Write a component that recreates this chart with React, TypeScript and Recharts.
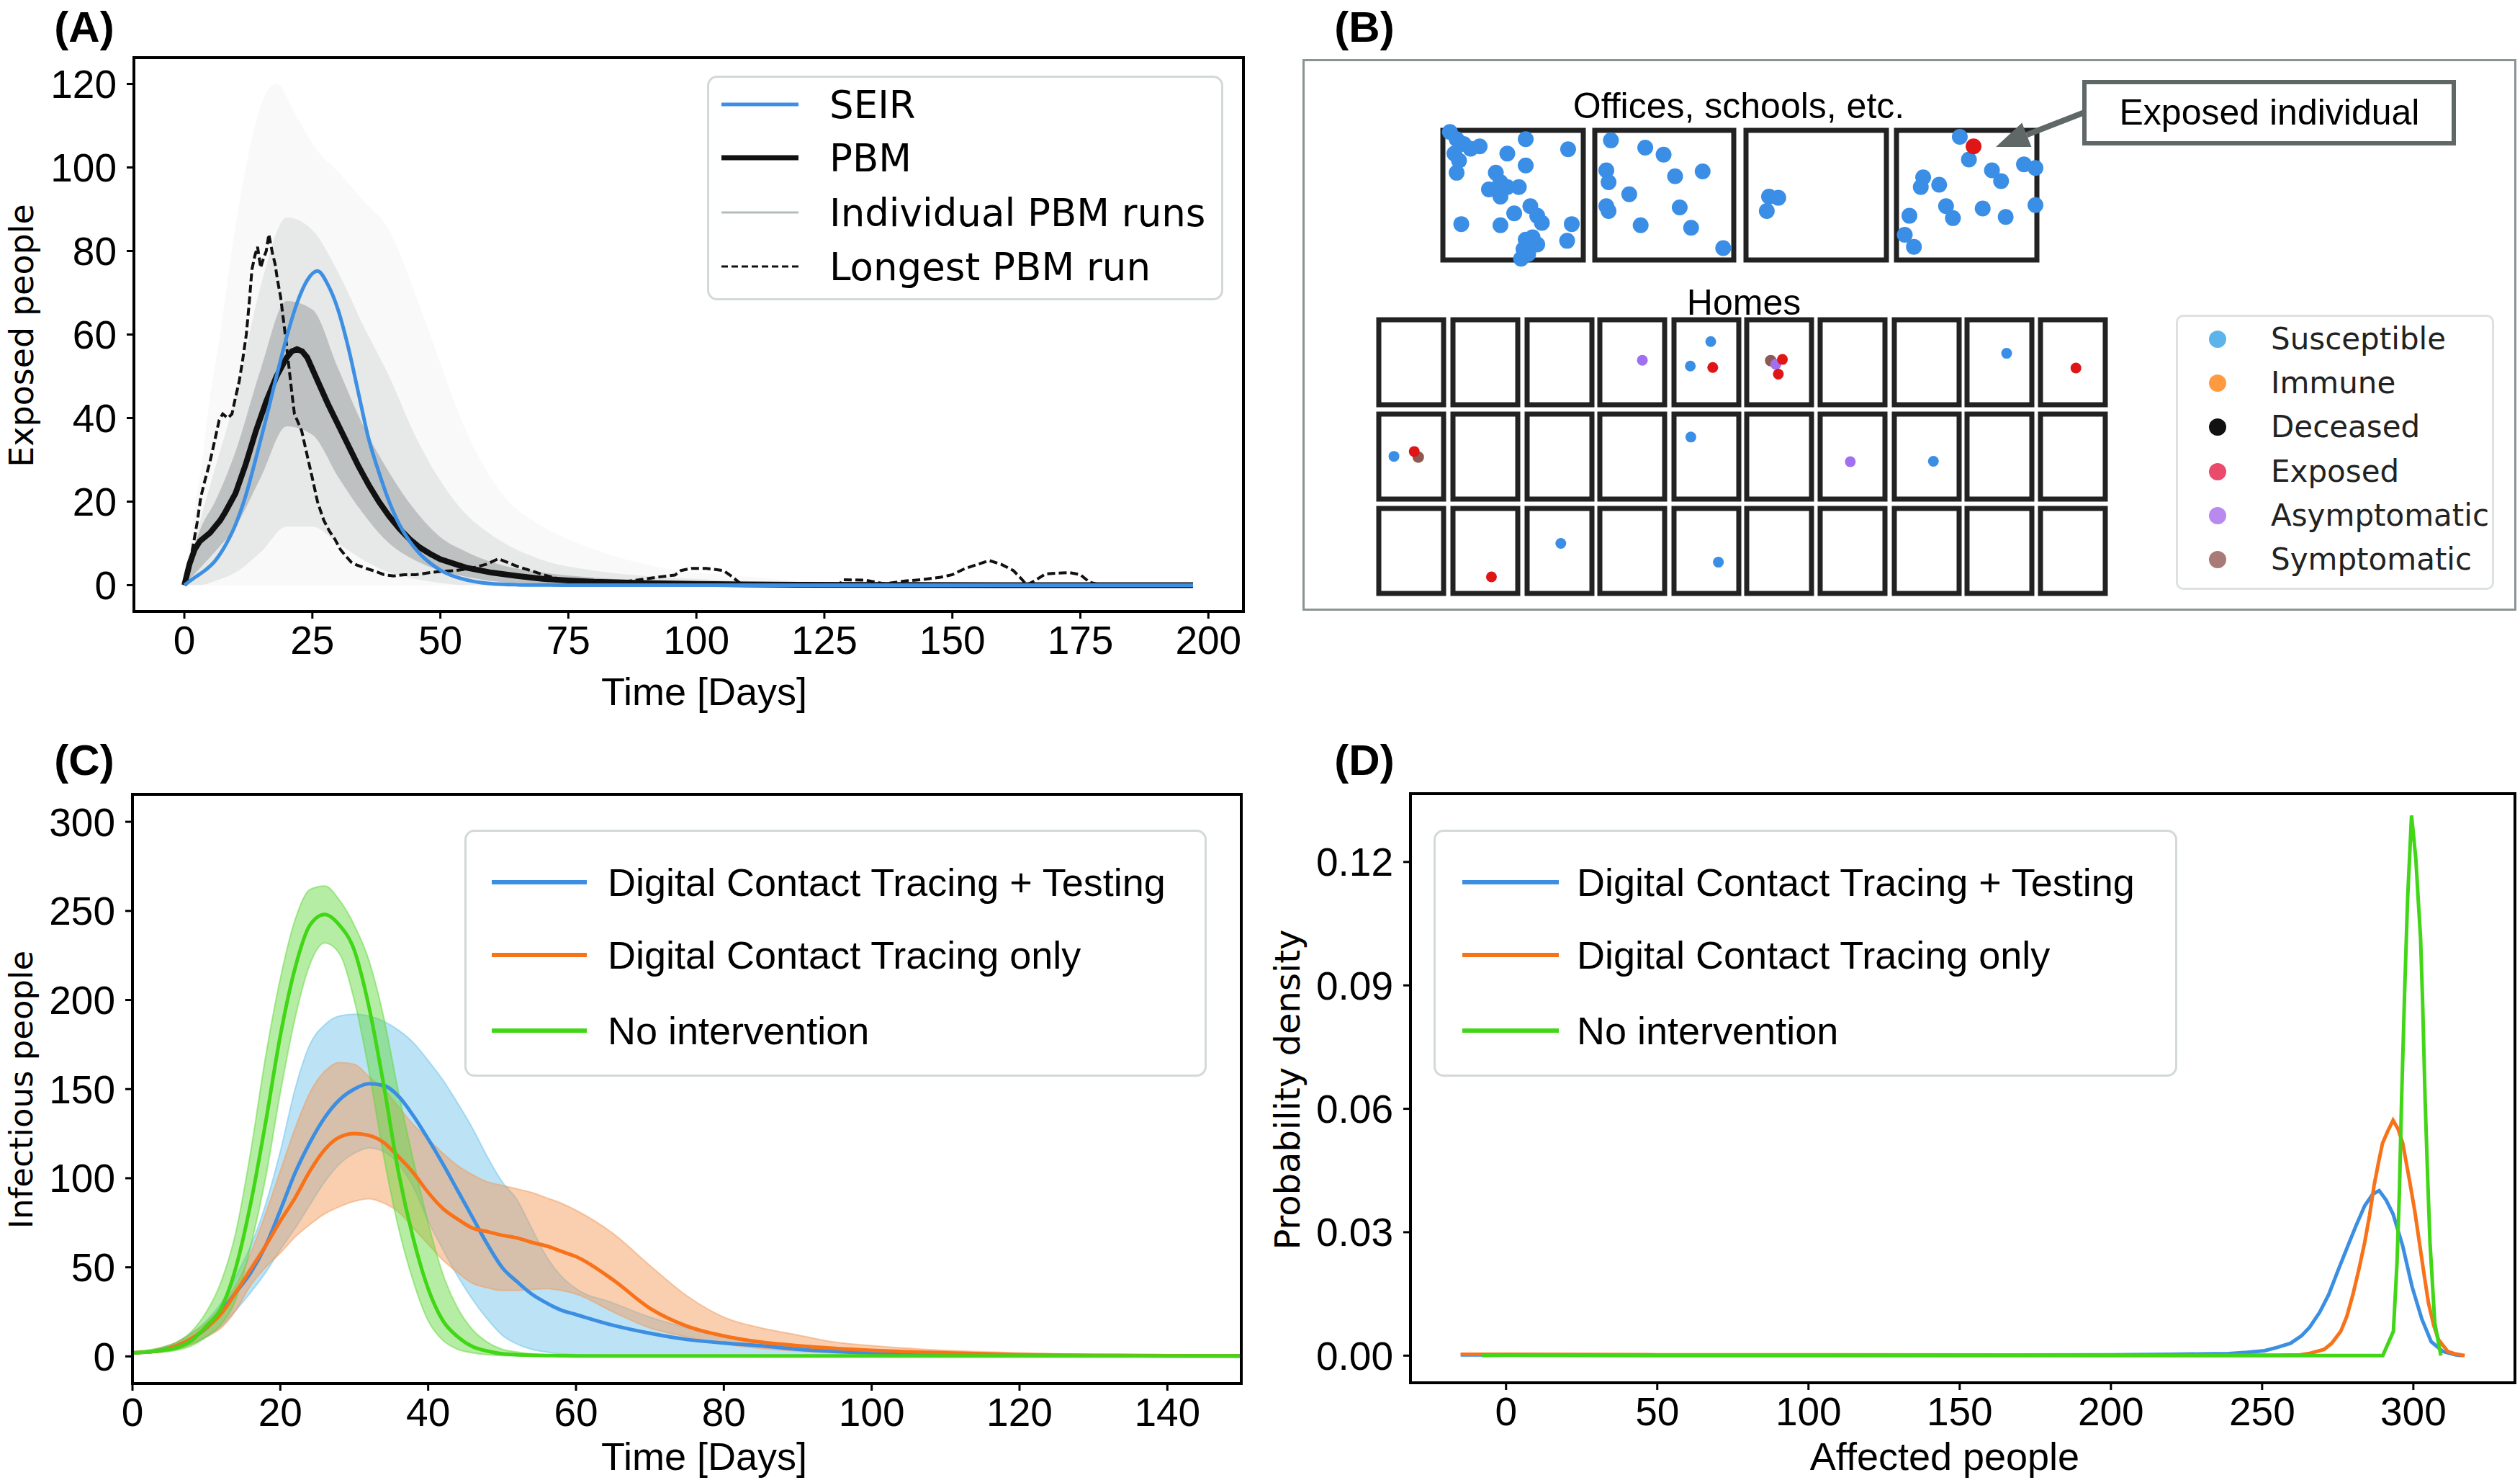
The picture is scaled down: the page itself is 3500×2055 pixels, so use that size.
import React from "react";
import {
  ComposedChart,
  Line,
  Area,
  XAxis,
  YAxis,
  ScatterChart,
  Scatter,
  ReferenceArea,
  ReferenceLine,
} from "recharts";

const SANS = "'Liberation Sans', Arial, sans-serif";
const DEJAVU = "'DejaVu Sans', sans-serif";

// ---------------- (A) exposed people ----------------
const A_X_TICKS = [0, 25, 50, 75, 100, 125, 150, 175, 200];
const A_Y_TICKS = [0, 20, 40, 60, 80, 100, 120];

const SEIR: [number, number][] = [
  [0, 0], [2, 1.8], [4, 3.5], [6, 5.8], [8, 9.5], [10, 14.5], [12, 21.5], [14, 30.5],
  [16, 40], [18, 50], [20, 59.5], [22, 67.5], [24, 73], [26, 75.2], [28, 72], [30, 66],
  [32, 57], [34, 46], [36, 35], [38, 27], [40, 20], [42, 14.5], [44, 10.5], [46, 7.5],
  [48, 5.3], [50, 3.6], [52, 2.4], [54, 1.6], [56, 1], [58, 0.6], [60, 0.35], [65, 0.1],
  [70, 0.03], [80, 0], [197, 0],
];

const PBM_MEAN: [number, number][] = [
  [0, 0], [1, 5], [2, 8.5], [3, 10.5], [4, 11.5], [5, 12.5], [6, 14], [7, 15.5], [8, 17.5],
  [10, 22], [12, 29], [14, 37], [16, 44], [18, 50], [20, 54.5], [21, 56], [22, 56.5],
  [23, 56], [24, 54.5], [26, 49], [28, 43.5], [30, 38.5], [32, 33.5], [34, 28.5], [36, 24],
  [38, 20], [40, 16.5], [42, 13.5], [44, 11], [46, 9], [48, 7.5], [50, 6.2], [55, 4.2],
  [60, 3], [65, 2.2], [70, 1.5], [75, 1.1], [80, 0.8], [90, 0.5], [100, 0.3], [110, 0.15],
  [120, 0.1], [140, 0.05], [160, 0], [197, 0],
];

const LONGEST_RUN: [number, number][] = [
  [0, 0], [1, 4], [1.5, 8], [2.5, 15], [3.2, 21], [4, 25], [5, 29.5], [6, 35], [6.8, 39.5],
  [7.5, 41], [8.5, 40], [9.3, 41], [10, 45], [10.7, 48.7], [11.4, 54], [12.1, 60], [12.7, 68],
  [13.2, 75.6], [13.8, 79], [14.3, 81], [14.9, 76], [15.4, 78], [16, 80], [16.5, 84],
  [17.2, 79.5], [17.7, 77], [18.2, 73], [18.8, 69], [19.3, 64], [19.9, 58], [20.4, 52.5],
  [21, 46], [21.5, 41], [22.2, 39], [22.9, 37], [24, 31], [25, 25.6], [26, 20], [27.2, 15.6],
  [28.3, 13], [29.4, 11], [30.5, 8.5], [31.5, 7], [32.6, 5.5], [33.7, 4.8], [35.5, 4],
  [37.3, 3.3], [39, 2.5], [40.9, 2.2], [43, 2.5], [45.2, 2.5], [48, 3], [50.2, 3.3], [53, 3.5],
  [56, 4], [59, 5], [61.3, 6.3], [63, 5.5], [65, 4.5], [67.6, 3.5], [70, 2.5], [73.9, 1.3],
  [78, 1], [82, 0.8], [86.5, 0.9], [90, 1.5], [93, 2], [95.8, 2.4], [97, 3.5], [99, 4],
  [102, 4], [105.3, 3.5], [107, 2], [109, 0], [128, 0], [128.5, 1.3], [133, 1.2], [136.8, 0.3],
  [140.7, 1], [144, 1.3], [147.7, 1.9], [150, 2.5], [152.5, 4], [155, 5], [157.2, 5.9],
  [159.5, 5], [161.9, 3.5], [163.5, 1.5], [164.5, 0], [166, 1], [168.2, 2.7], [172.9, 3],
  [175, 2.5], [176.8, 0.7], [179, 0], [197, 0],
];

// spread of the individual PBM runs: [t, low, high]
const RUNS_OUTER: [number, number, number][] = [
  [0, 0, 0], [2, 0, 18], [3.5, 0, 30], [5, 0, 45], [7, 0, 60], [9, 0, 78], [12, 0, 100],
  [15, 0, 115], [18, 0, 120], [22, 0, 112], [26, 0, 104], [30, 0, 99], [35, 0, 92], [40, 0, 85],
  [45, 0, 70], [48, 0, 60], [55, 0, 37], [62, 0, 22], [70, 0, 14], [77, 0, 10], [90, 0, 5],
  [100, 0, 3], [110, 0, 2], [120, 0, 1], [140, 0, 0.3], [160, 0, 0], [197, 0, 0],
];
const RUNS_MID: [number, number, number][] = [
  [0, 0, 0], [3, 0, 15], [6, 1, 28], [10, 3, 45], [15, 8, 72], [20, 14, 88], [25, 14, 85],
  [30, 10, 75], [35, 6, 62], [40, 3, 50], [45, 1.5, 36], [50, 0.5, 25], [55, 0, 17], [60, 0, 12],
  [70, 0, 6], [80, 0, 3.5], [90, 0, 2.2], [100, 0, 1.5], [120, 0, 0.6], [140, 0, 0.2],
  [160, 0, 0], [197, 0, 0],
];
const RUNS_CORE: [number, number, number][] = [
  [0, 0, 0], [3, 4, 13], [6, 8, 20], [10, 14, 32], [15, 26, 52], [20, 38, 68], [25, 36, 66],
  [30, 26, 52], [35, 17, 38], [40, 10, 27], [45, 6, 18], [50, 3.5, 11.5], [55, 2, 8],
  [60, 1, 5.5], [70, 0.3, 3], [80, 0, 1.8], [90, 0, 1], [100, 0, 0.6], [120, 0, 0.2],
  [140, 0, 0], [197, 0, 0],
];

// ---------------- (C) infectious people ----------------
const C_X_TICKS = [0, 20, 40, 60, 80, 100, 120, 140];
const C_Y_TICKS = [0, 50, 100, 150, 200, 250, 300];
const C_DAYS = [
  0, 2, 4, 6, 8, 10, 12, 14, 16, 18, 20, 22, 24, 26, 28, 30, 32, 34, 36, 38, 40, 42, 44, 46,
  48, 50, 52, 54, 56, 58, 60, 65, 70, 75, 80, 85, 90, 95, 100, 110, 120, 130, 140, 150,
];
const C_TRACE_TEST = [
  2, 2.5, 3.5, 6, 10, 16, 25, 36, 47, 62, 82, 103, 120, 134, 144, 150, 153, 152, 146, 135, 122,
  108, 93, 78, 63, 50, 42, 35, 30, 26, 23.5, 17.5, 13, 9.5, 7.5, 6, 4, 2.8, 2, 1.2, 0.7, 0.5, 0.3, 0.3,
];
const C_TRACE_TEST_LO = [
  1.5, 2, 2.5, 4, 7, 11, 17, 26, 36, 47, 60, 72, 85, 98, 108, 114, 117, 115, 108, 95, 76, 60,
  45, 32, 21, 12, 7, 4, 2.5, 1.5, 1, 0.5, 0.3, 0.2, 0.2, 0.2, 0.2, 0.2, 0.2, 0.2, 0.2, 0.2, 0.2, 0.2,
];
const C_TRACE_TEST_HI = [
  2.5, 3, 5, 8, 13, 20, 30, 45, 62, 85, 115, 150, 175, 186, 191, 192, 191, 188, 183, 176, 166,
  155, 142, 128, 112, 98, 88, 72, 56, 45, 38, 30, 22, 16, 11, 8, 6, 4.5, 3.5, 2, 1, 0.6, 0.4, 0.3,
];
const C_TRACE_ONLY = [
  2, 2.5, 3.5, 6, 10, 16, 24, 36, 49, 62, 76, 89, 104, 116, 123, 125, 124, 120, 112, 103, 92,
  83, 77, 72, 70, 68, 66.5, 64, 62, 59, 56, 43, 27, 17, 11.5, 8, 6, 4.5, 3.4, 2, 1, 0.6, 0.4, 0.3,
];
const C_TRACE_ONLY_LO = [
  1.5, 2, 2.5, 4, 7, 11, 16, 26, 40, 50, 58, 67, 74, 80, 84, 87, 88.5, 86, 81, 72, 63, 54, 47,
  41, 38.5, 37, 37, 37.5, 38, 37, 35, 25, 16, 11, 7, 4.5, 3, 2, 1.5, 0.8, 0.4, 0.3, 0.2, 0.2,
];
const C_TRACE_ONLY_HI = [
  2.5, 3, 5, 8, 13, 19, 28, 40, 58, 80, 104, 128, 148, 160, 165, 164, 157, 150, 140, 130, 122,
  114, 107, 102, 98, 96, 94, 92, 89, 86, 82, 69, 51, 34, 22, 16, 12, 8, 6, 3.4, 2, 1, 0.6, 0.4,
];
const C_NONE = [
  2, 2.5, 3.5, 5, 9, 17, 27, 50, 86, 131, 180, 218, 242, 248, 242, 228, 196, 152, 103, 66, 38,
  20, 11, 5.5, 3, 1.5, 1, 0.7, 0.5, 0.4, 0.3, 0.3, 0.3, 0.3, 0.3, 0.3, 0.3, 0.3, 0.3, 0.3, 0.3, 0.3, 0.3, 0.3,
];
const C_NONE_LO = [
  1.5, 2, 2.5, 3.5, 6, 11, 18, 32, 62, 100, 148, 190, 220, 232, 226, 200, 160, 112, 72, 42, 20,
  9, 4, 2, 1, 0.5, 0.3, 0.2, 0.2, 0.2, 0.2, 0.2, 0.2, 0.2, 0.2, 0.2, 0.2, 0.2, 0.2, 0.2, 0.2, 0.2, 0.2, 0.2,
];
const C_NONE_HI = [
  2.5, 3.5, 5, 8, 14, 25, 42, 70, 115, 168, 212, 245, 262, 264, 256, 242, 222, 190, 148, 110,
  75, 46, 27, 15, 8, 4, 2.5, 1.5, 1, 0.8, 0.6, 0.4, 0.4, 0.4, 0.4, 0.4, 0.4, 0.4, 0.4, 0.4, 0.4, 0.4, 0.4, 0.4,
];

// ---------------- (D) probability density ----------------
const D_X_TICKS = [0, 50, 100, 150, 200, 250, 300];
const D_Y_TICKS = [0, 0.03, 0.06, 0.09, 0.12];
const D_TRACE_TEST: [number, number][] = [
  [-15, 0.0002], [0, 0.0002], [50, 0.0001], [100, 0.0001], [150, 0.0001], [200, 0.0002],
  [220, 0.0003], [230, 0.0004], [239, 0.0005], [245, 0.0008], [250.8, 0.0012], [255, 0.002],
  [259.4, 0.003], [263, 0.0048], [265.7, 0.0069], [269, 0.0105], [272, 0.0148], [275, 0.0205],
  [278.3, 0.0266], [281, 0.0315], [283.9, 0.0364], [286.5, 0.0392], [288.7, 0.0401],
  [291, 0.0378], [293.3, 0.0344], [296.5, 0.0266], [299.6, 0.0167], [302.8, 0.0089],
  [305.9, 0.0034], [309.8, 0.001], [313.8, 0.0002], [316, 0],
];
const D_TRACE_ONLY: [number, number][] = [
  [-15, 0.0003], [-8, 0.0003], [0, 0.0003], [50, 0.0002], [100, 0.0002], [200, 0.0001],
  [255, 0.0001], [262.6, 0.0002], [266, 0.0006], [270.5, 0.0015], [273, 0.003], [276, 0.0059],
  [278, 0.0095], [280, 0.0148], [282, 0.021], [283.9, 0.0275], [285.5, 0.034], [287, 0.0413],
  [288.5, 0.047], [289.8, 0.0516], [291.5, 0.0545], [293.3, 0.0572], [295, 0.055],
  [296.5, 0.0516], [298.8, 0.0423], [300.5, 0.035], [302, 0.0275], [303.5, 0.02], [305, 0.0128],
  [306.7, 0.0075], [308.3, 0.0039], [311.4, 0.001], [314, 0.0004], [317, 0],
];
const D_NONE: [number, number][] = [
  [-8, 0], [0, 0.0001], [50, 0], [100, 0], [200, 0], [289.9, 0], [293.4, 0.0059],
  [294.6, 0.0226], [295.4, 0.04], [296.1, 0.062], [297.1, 0.088], [298.1, 0.111],
  [299.4, 0.1313], [300.8, 0.121], [301.6, 0.111], [302.4, 0.1013], [303.1, 0.085],
  [303.9, 0.062], [304.7, 0.044], [305.5, 0.0275], [307.1, 0.0079], [309.1, 0],
];

// ---------------- (B) schematic, plan units inside the panel ----------------
const B_W = 1683;
const B_H = 763;
const OFFICE_X: [number, number][] = [[194, 389], [405, 598], [615, 810], [824, 1019]];
const OFFICE_Y: [number, number] = [98, 278];
const HOME_X = [105, 208, 311, 412, 515, 616, 718, 821, 922, 1024];
const HOME_W = 90;
const HOME_Y = [361, 492, 623];
const HOME_H = 118;

// people in offices: [room, fx, fy] (fraction of the room)
const OFFICE_SUSCEPTIBLE: [number, number, number][] = [
  [0, 0.05, 0.013], [0, 0.098, 0.068], [0, 0.148, 0.105], [0, 0.197, 0.142], [0, 0.262, 0.124],
  [0, 0.082, 0.179], [0, 0.115, 0.234], [0, 0.459, 0.179], [0, 0.59, 0.068], [0, 0.892, 0.146],
  [0, 0.59, 0.271], [0, 0.098, 0.327], [0, 0.377, 0.327], [0, 0.41, 0.4], [0, 0.328, 0.456],
  [0, 0.459, 0.437], [0, 0.541, 0.437], [0, 0.41, 0.511], [0, 0.508, 0.64], [0, 0.623, 0.585],
  [0, 0.672, 0.659], [0, 0.705, 0.714], [0, 0.131, 0.723], [0, 0.41, 0.732], [0, 0.918, 0.723],
  [0, 0.59, 0.843], [0, 0.672, 0.88], [0, 0.574, 0.917], [0, 0.885, 0.852], [0, 0.557, 0.99],
  [0, 0.639, 0.825], [0, 0.607, 0.954],
  [1, 0.116, 0.077], [1, 0.363, 0.133], [1, 0.495, 0.188], [1, 0.083, 0.308], [1, 0.099, 0.4],
  [1, 0.248, 0.493], [1, 0.578, 0.354], [1, 0.776, 0.317], [1, 0.611, 0.594], [1, 0.099, 0.622],
  [1, 0.083, 0.585], [1, 0.33, 0.732], [1, 0.693, 0.751], [1, 0.924, 0.908],
  [2, 0.164, 0.511], [2, 0.23, 0.52], [2, 0.148, 0.622],
  [3, 0.451, 0.05], [3, 0.516, 0.225], [3, 0.19, 0.363], [3, 0.173, 0.437], [3, 0.304, 0.419],
  [3, 0.68, 0.308], [3, 0.745, 0.391], [3, 0.908, 0.262], [3, 0.99, 0.29], [3, 0.353, 0.585],
  [3, 0.402, 0.677], [3, 0.614, 0.603], [3, 0.778, 0.668], [3, 0.99, 0.576], [3, 0.092, 0.659],
  [3, 0.059, 0.806], [3, 0.124, 0.898],
];
const OFFICE_EXPOSED: [number, number, number][] = [[3, 0.549, 0.124]];

// people at home: [row, col, fx, fy]
const HOME_SUSCEPTIBLE: [number, number, number, number][] = [
  [0, 4, 0.567, 0.256], [0, 4, 0.252, 0.545], [0, 8, 0.611, 0.395],
  [1, 0, 0.234, 0.497], [1, 4, 0.26, 0.27], [1, 7, 0.603, 0.555],
  [2, 2, 0.52, 0.411], [2, 4, 0.685, 0.632],
];
const HOME_EXPOSED: [number, number, number, number][] = [
  [0, 4, 0.598, 0.562], [0, 5, 0.551, 0.467], [0, 5, 0.488, 0.64], [0, 9, 0.547, 0.568],
  [1, 0, 0.547, 0.44], [2, 1, 0.594, 0.805],
];
const HOME_ASYMPTOMATIC: [number, number, number, number][] = [
  [0, 3, 0.656, 0.476], [0, 5, 0.449, 0.524], [1, 6, 0.465, 0.56],
];
const HOME_SYMPTOMATIC: [number, number, number, number][] = [
  [0, 5, 0.37, 0.481], [1, 0, 0.609, 0.506],
];

const B_STATES = [
  { name: "Susceptible", color: "#5db4ea" },
  { name: "Immune", color: "#ff9a40" },
  { name: "Deceased", color: "#111111" },
  { name: "Exposed", color: "#ea4a6c" },
  { name: "Asymptomatic", color: "#b88af0" },
  { name: "Symptomatic", color: "#a87a78" },
];

const C_COLORS = { test: "#3b8ee2", only: "#f8721a", none: "#41d616" };

// ---------------- helpers ----------------
const pairs = (arr: [number, number][]) => arr.map(([x, y]) => ({ x, y }));
const bands = (arr: [number, number, number][]) => arr.map(([x, lo, hi]) => ({ x, band: [lo, hi] }));

const officePts = (arr: [number, number, number][]) =>
  arr.map(([r, fx, fy]) => ({
    x: OFFICE_X[r][0] + fx * (OFFICE_X[r][1] - OFFICE_X[r][0]),
    y: OFFICE_Y[0] + fy * (OFFICE_Y[1] - OFFICE_Y[0]),
  }));
const homePts = (arr: [number, number, number, number][]) =>
  arr.map(([row, col, fx, fy]) => ({ x: HOME_X[col] + fx * HOME_W, y: HOME_Y[row] + fy * HOME_H }));

const tickStyle = { fill: "#000", fontSize: 55, fontFamily: SANS };
const tickLine = { stroke: "#000", strokeWidth: 3 };

function Txt(props: {
  x: number; y: number; size: number; font?: string; weight?: number; rotate?: boolean;
  align?: "center" | "left"; children: React.ReactNode;
}) {
  const { x, y, size, font = SANS, weight = 400, rotate, align = "center" } = props;
  const tr = align === "center" ? "translate(-50%,-50%)" : "translate(0,-50%)";
  return (
    <div
      style={{
        position: "absolute", left: x, top: y, fontSize: size, lineHeight: `${Math.round(size * 1.15)}px`,
        fontFamily: font, fontWeight: weight, whiteSpace: "nowrap", color: "#000",
        transform: rotate ? `${tr} rotate(-90deg)` : tr,
      }}
    >
      {props.children}
    </div>
  );
}

function Frame({ x0, y0, x1, y1, color = "#000", w = 4 }: any) {
  return (
    <div
      style={{
        position: "absolute", left: x0 - w / 2, top: y0 - w / 2, width: x1 - x0 + w,
        height: y1 - y0 + w, border: `${w}px solid ${color}`, boxSizing: "border-box",
        pointerEvents: "none",
      }}
    />
  );
}

type LegendItem = { label: string; color: string; width: number; dash?: string };
function LegendBox(props: {
  box: [number, number, number, number]; rows: number[]; hx: [number, number]; tx: number;
  items: LegendItem[]; size: number; font: string;
}) {
  const { box, rows, hx, tx, items, size, font } = props;
  return (
    <>
      <div
        style={{
          position: "absolute", left: box[0], top: box[1], width: box[2] - box[0],
          height: box[3] - box[1], border: "3px solid #d3d8d8", borderRadius: 14,
          background: "rgba(255,255,255,0.85)", boxSizing: "border-box",
        }}
      />
      {items.map((it, i) => (
        <React.Fragment key={it.label}>
          <svg style={{ position: "absolute", left: hx[0], top: rows[i] - 10 }} width={hx[1] - hx[0]} height={20}>
            <line x1={0} x2={hx[1] - hx[0]} y1={10} y2={10} stroke={it.color} strokeWidth={it.width} strokeDasharray={it.dash} />
          </svg>
          <Txt x={tx} y={rows[i]} size={size} font={font} align="left">{it.label}</Txt>
        </React.Fragment>
      ))}
    </>
  );
}

const arrowShape = (p: any) => {
  const { x1, y1, x2, y2 } = p;
  const ang = Math.atan2(y2 - y1, x2 - x1);
  const L = 46;
  const W = 18;
  const bx = x2 - L * Math.cos(ang);
  const by = y2 - L * Math.sin(ang);
  const px = -Math.sin(ang) * W;
  const py = Math.cos(ang) * W;
  return (
    <g>
      <line x1={x1} y1={y1} x2={bx} y2={by} stroke="#5f6767" strokeWidth={8} />
      <polygon points={`${x2},${y2} ${bx + px},${by + py} ${bx - px},${by - py}`} fill="#5f6767" />
    </g>
  );
};

const dotShape = (r: number, color: string) => (p: any) => (
  <circle cx={p.cx} cy={p.cy} r={r} fill={color} />
);

export default function App() {
  const cData = C_DAYS.map((t, i) => ({
    t,
    test: C_TRACE_TEST[i],
    testBand: [C_TRACE_TEST_LO[i], C_TRACE_TEST_HI[i]],
    only: C_TRACE_ONLY[i],
    onlyBand: [C_TRACE_ONLY_LO[i], C_TRACE_ONLY_HI[i]],
    none: C_NONE[i],
    noneBand: [C_NONE_LO[i], C_NONE_HI[i]],
  }));

  const cdLegend: LegendItem[] = [
    { label: "Digital Contact Tracing + Testing", color: C_COLORS.test, width: 6 },
    { label: "Digital Contact Tracing only", color: C_COLORS.only, width: 6 },
    { label: "No intervention", color: C_COLORS.none, width: 6 },
  ];

  return (
    <div style={{ position: "absolute", left: 0, top: 0, width: 3500, height: 2055, background: "#fff", overflow: "hidden" }}>
      {/* ---------- (A) ---------- */}
      <div style={{ position: "absolute", left: 0, top: 70 }}>
        <ComposedChart width={1737} height={929} margin={{ top: 10, right: 10, left: 0, bottom: 0 }}>
          <XAxis
            type="number" dataKey="x" domain={[-9.85, 206.85]} ticks={A_X_TICKS} interval={0}
            allowDataOverflow height={150} tick={tickStyle} tickSize={10} tickMargin={10}
            tickLine={tickLine} axisLine={false}
          />
          <YAxis
            type="number" domain={[-6.3, 126.3]} ticks={A_Y_TICKS} interval={0} allowDataOverflow
            width={186} tick={tickStyle} tickSize={10} tickMargin={14} tickLine={tickLine} axisLine={false}
          />
          <Area data={bands(RUNS_OUTER)} dataKey="band" type="monotone" stroke="none" fill="#6e7676" fillOpacity={0.045} isAnimationActive={false} />
          <Area data={bands(RUNS_MID)} dataKey="band" type="monotone" stroke="none" fill="#6e7676" fillOpacity={0.12} isAnimationActive={false} />
          <Area data={bands(RUNS_CORE)} dataKey="band" type="monotone" stroke="none" fill="#6e7676" fillOpacity={0.34} isAnimationActive={false} />
          <Line data={pairs(LONGEST_RUN)} dataKey="y" type="linear" stroke="#111" strokeWidth={4} strokeDasharray="11 5" dot={false} activeDot={false} isAnimationActive={false} />
          <Line data={pairs(PBM_MEAN)} dataKey="y" type="linear" stroke="#111" strokeWidth={8} dot={false} activeDot={false} isAnimationActive={false} />
          <Line data={pairs(SEIR)} dataKey="y" type="monotone" stroke="#3d8fe3" strokeWidth={5} dot={false} activeDot={false} isAnimationActive={false} />
        </ComposedChart>
      </div>
      <Frame x0={186} y0={80} x1={1727} y1={849} />
      <LegendBox
        box={[982, 105, 1699, 417]} rows={[145, 219, 295, 370]} hx={[1002, 1109]} tx={1152}
        size={53} font={DEJAVU}
        items={[
          { label: "SEIR", color: "#3d8fe3", width: 5 },
          { label: "PBM", color: "#111", width: 7 },
          { label: "Individual PBM runs", color: "#b4bcbc", width: 3 },
          { label: "Longest PBM run", color: "#111", width: 3, dash: "9 5" },
        ]}
      />
      <Txt x={978} y={960} size={54}>Time [Days]</Txt>
      <Txt x={30} y={466} size={46} font={DEJAVU} rotate>Exposed people</Txt>
      <Txt x={117} y={37} size={60} weight={700}>(A)</Txt>

      {/* ---------- (B) ---------- */}
      <div style={{ position: "absolute", left: 1810, top: 83 }}>
        <ScatterChart width={B_W} height={B_H} margin={{ top: 0, right: 0, left: 0, bottom: 0 }}>
          <XAxis type="number" dataKey="x" domain={[0, B_W]} hide />
          <YAxis type="number" dataKey="y" domain={[0, B_H]} reversed hide />
          {OFFICE_X.map(([x1, x2], i) => (
            <ReferenceArea key={`o${i}`} x1={x1} x2={x2} y1={OFFICE_Y[0]} y2={OFFICE_Y[1]} fill="#fff" fillOpacity={0} stroke="#222" strokeWidth={7} ifOverflow="visible" />
          ))}
          {HOME_Y.map((y, r) =>
            HOME_X.map((x, c) => (
              <ReferenceArea key={`h${r}-${c}`} x1={x} x2={x + HOME_W} y1={y} y2={y + HOME_H} fill="#fff" fillOpacity={0} stroke="#222" strokeWidth={7} ifOverflow="visible" />
            ))
          )}
          <ReferenceArea x1={1085} x2={1598} y1={31} y2={116} fill="#fff" stroke="#5f6767" strokeWidth={6} ifOverflow="visible" />
          <ReferenceLine segment={[{ x: 1085, y: 73 }, { x: 962, y: 121 }]} shape={arrowShape} ifOverflow="visible" />
          <Scatter data={officePts(OFFICE_SUSCEPTIBLE)} shape={dotShape(11, "#3a8ee6")} isAnimationActive={false} />
          <Scatter data={officePts(OFFICE_EXPOSED)} shape={dotShape(11, "#e01515")} isAnimationActive={false} />
          <Scatter data={homePts(HOME_SUSCEPTIBLE)} shape={dotShape(7.5, "#3a8ee6")} isAnimationActive={false} />
          <Scatter data={homePts(HOME_SYMPTOMATIC)} shape={dotShape(8, "#8c5a52")} isAnimationActive={false} />
          <Scatter data={homePts(HOME_ASYMPTOMATIC)} shape={dotShape(7.5, "#a070f0")} isAnimationActive={false} />
          <Scatter data={homePts(HOME_EXPOSED)} shape={dotShape(7.5, "#e01515")} isAnimationActive={false} />
        </ScatterChart>
      </div>
      <Frame x0={1810} y0={83} x1={3493} y1={846} color="#8a9494" w={3} />
      <Txt x={2415} y={147} size={50}>Offices, schools, etc.</Txt>
      <Txt x={2422} y={420} size={50}>Homes</Txt>
      <Txt x={3152} y={156} size={50}>Exposed individual</Txt>
      <div
        style={{
          position: "absolute", left: 3022, top: 437, width: 442, height: 382,
          border: "3px solid #dde1e1", borderRadius: 10, boxSizing: "border-box", background: "#fff",
        }}
      />
      {B_STATES.map((s, i) => (
        <React.Fragment key={s.name}>
          <svg style={{ position: "absolute", left: 3066, top: 471 + i * 61.2 - 14 }} width={28} height={28}>
            <circle cx={14} cy={14} r={12} fill={s.color} />
          </svg>
          <Txt x={3154} y={471 + i * 61.2} size={42} font={DEJAVU} align="left">
            <span style={{ color: "#222" }}>{s.name}</span>
          </Txt>
        </React.Fragment>
      ))}
      <Txt x={1895} y={37} size={60} weight={700}>(B)</Txt>

      {/* ---------- (C) ---------- */}
      <div style={{ position: "absolute", left: 0, top: 1093 }}>
        <ComposedChart width={1734} height={958} data={cData} margin={{ top: 10, right: 10, left: 0, bottom: 0 }}>
          <XAxis
            type="number" dataKey="t" domain={[0, 150]} ticks={C_X_TICKS} interval={0} allowDataOverflow
            height={130} tick={tickStyle} tickSize={10} tickMargin={10} tickLine={tickLine} axisLine={false}
          />
          <YAxis
            type="number" domain={[-15.2, 315.4]} ticks={C_Y_TICKS} interval={0} allowDataOverflow
            width={184} tick={tickStyle} tickSize={10} tickMargin={14} tickLine={tickLine} axisLine={false}
          />
          <Area dataKey="testBand" type="monotone" stroke="#7ac8ec" strokeOpacity={0.6} strokeWidth={2} fill="#7ac8ec" fillOpacity={0.5} isAnimationActive={false} />
          <Area dataKey="onlyBand" type="monotone" stroke="#f29a5a" strokeOpacity={0.5} strokeWidth={2} fill="#f29a5a" fillOpacity={0.48} isAnimationActive={false} />
          <Area dataKey="noneBand" type="monotone" stroke="#5ed838" strokeOpacity={0.5} strokeWidth={2} fill="#5ed838" fillOpacity={0.45} isAnimationActive={false} />
          <Line dataKey="test" type="monotone" stroke={C_COLORS.test} strokeWidth={5} dot={false} activeDot={false} isAnimationActive={false} />
          <Line dataKey="only" type="monotone" stroke={C_COLORS.only} strokeWidth={5} dot={false} activeDot={false} isAnimationActive={false} />
          <Line dataKey="none" type="monotone" stroke={C_COLORS.none} strokeWidth={5} dot={false} activeDot={false} isAnimationActive={false} />
        </ComposedChart>
      </div>
      <Frame x0={184} y0={1103} x1={1724} y1={1921} />
      <LegendBox box={[645, 1152, 1676, 1495]} rows={[1225, 1326, 1431]} hx={[683, 815]} tx={844} size={54} font={SANS} items={cdLegend} />
      <Txt x={978} y={2022} size={54}>Time [Days]</Txt>
      <Txt x={30} y={1513} size={45} font={DEJAVU} rotate>Infectious people</Txt>
      <Txt x={117} y={1055} size={60} weight={700}>(C)</Txt>

      {/* ---------- (D) ---------- */}
      <div style={{ position: "absolute", left: 1759, top: 1092 }}>
        <ComposedChart width={1739} height={958} margin={{ top: 10, right: 5, left: 0, bottom: 0 }}>
          <XAxis
            type="number" dataKey="x" domain={[-31.6, 333.6]} ticks={D_X_TICKS} interval={0} allowDataOverflow
            height={130} tick={tickStyle} tickSize={10} tickMargin={10} tickLine={tickLine} axisLine={false}
          />
          <YAxis
            type="number" domain={[-0.0066, 0.1366]} ticks={D_Y_TICKS} interval={0} allowDataOverflow
            width={200} tick={tickStyle} tickSize={10} tickMargin={14} tickLine={tickLine} axisLine={false}
            tickFormatter={(v: number) => v.toFixed(2)}
          />
          <Line data={pairs(D_TRACE_TEST)} dataKey="y" type="linear" stroke={C_COLORS.test} strokeWidth={5} dot={false} activeDot={false} isAnimationActive={false} />
          <Line data={pairs(D_TRACE_ONLY)} dataKey="y" type="linear" stroke={C_COLORS.only} strokeWidth={5} dot={false} activeDot={false} isAnimationActive={false} />
          <Line data={pairs(D_NONE)} dataKey="y" type="linear" stroke={C_COLORS.none} strokeWidth={5} dot={false} activeDot={false} isAnimationActive={false} />
        </ComposedChart>
      </div>
      <Frame x0={1959} y0={1102} x1={3493} y1={1920} />
      <LegendBox box={[1991, 1152, 3024, 1495]} rows={[1225, 1326, 1431]} hx={[2031, 2165]} tx={2190} size={54} font={SANS} items={cdLegend} />
      <Txt x={2701} y={2022} size={54}>Affected people</Txt>
      <Txt x={1788} y={1513} size={48} font={DEJAVU} rotate>Probability density</Txt>
      <Txt x={1895} y={1055} size={60} weight={700}>(D)</Txt>
    </div>
  );
}
